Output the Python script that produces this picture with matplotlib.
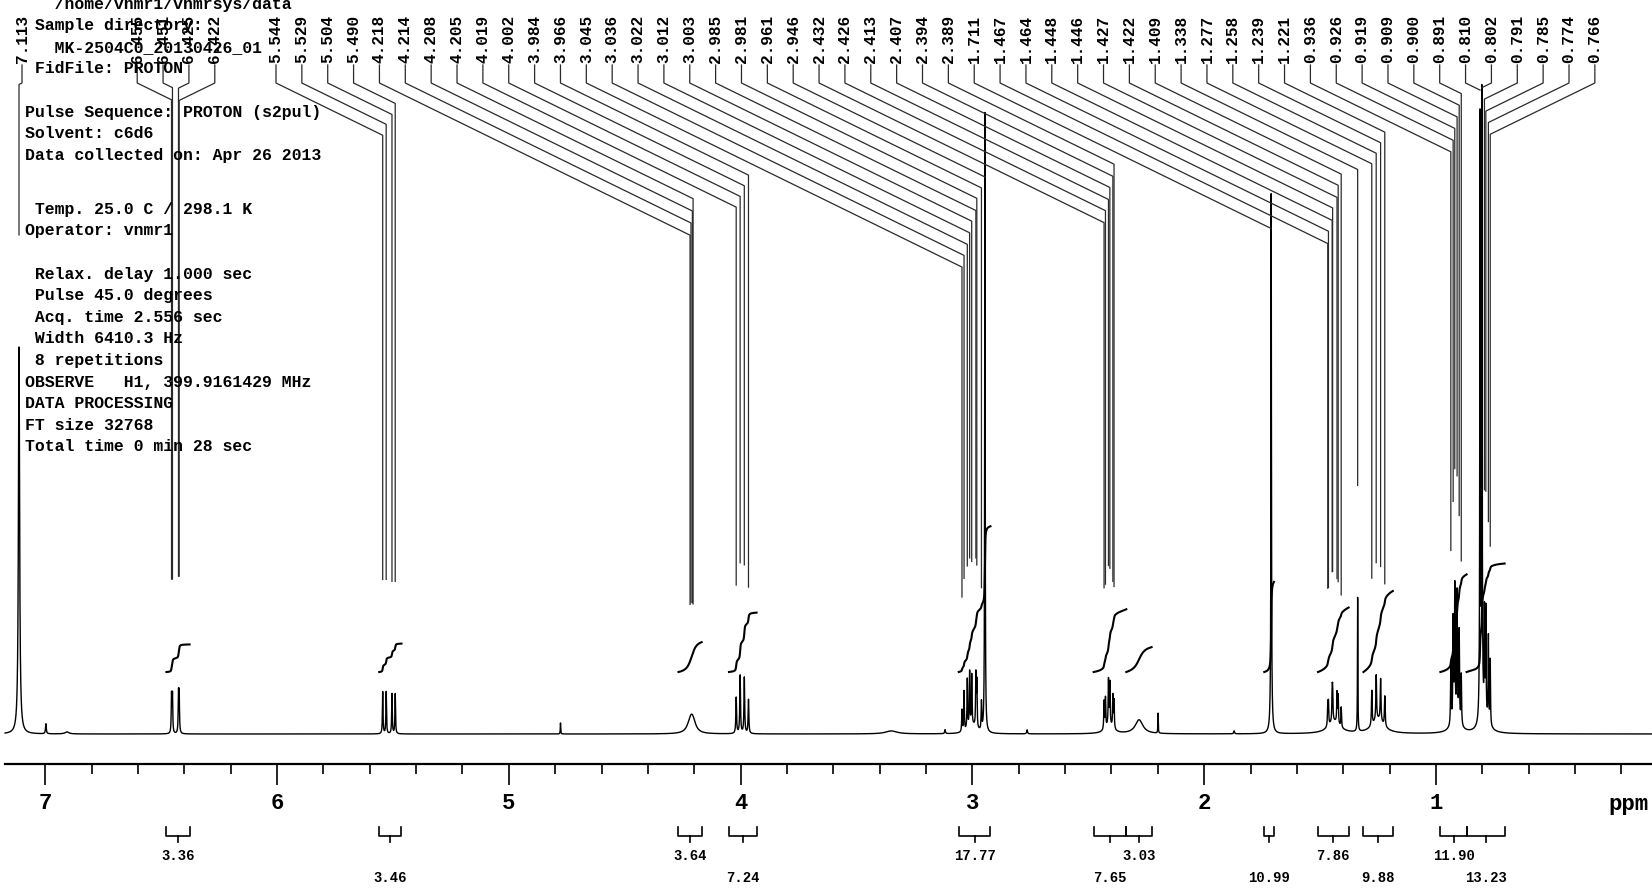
import numpy as np
import matplotlib
matplotlib.use('Agg')
from matplotlib import pyplot as plt
from matplotlib.ticker import MultipleLocator, FormatStrFormatter

# labelled lines: printed shift, height above baseline, half width (ppm)
shifts = ['7.113',
          '6.455', '6.451', '6.425', '6.422',
          '5.544', '5.529', '5.504', '5.490',
          '4.218', '4.214', '4.208', '4.205',
          '4.019', '4.002', '3.984', '3.966',
          '3.045', '3.036', '3.022', '3.012', '3.003', '2.985', '2.981', '2.961', '2.946',
          '2.432', '2.426', '2.413', '2.407', '2.394', '2.389',
          '1.711',
          '1.467', '1.464', '1.448', '1.446', '1.427', '1.422', '1.409',
          '1.338',
          '1.277', '1.258', '1.239', '1.221',
          '0.936', '0.926', '0.919', '0.909', '0.900', '0.891',
          '0.810', '0.802', '0.791', '0.785', '0.774', '0.766']
heights = [387,
           38, 38, 38, 38,
           42, 42, 40, 40,
           5.5, 5.5, 5.5, 5.5,
           36, 58, 56, 34,
           22, 40, 50, 55, 50, 52, 45, 28, 620,
           28, 30, 45, 42, 32, 28,
           520,
           22, 22, 28, 28, 30, 28, 20,
           134,
           35, 45, 42, 30,
           60, 100, 130, 125, 90, 50,
           600, 620, 100, 105, 85, 65]
widths = [0.003,
          0.0015, 0.0015, 0.0015, 0.0015,
          0.0015, 0.0015, 0.0015, 0.0015,
          0.015, 0.015, 0.015, 0.015,
          0.0018, 0.0018, 0.0018, 0.0018,
          0.0015, 0.0015, 0.0015, 0.0015, 0.0015, 0.0015, 0.0015, 0.0015, 0.0012,
          0.0015, 0.0015, 0.0015, 0.0015, 0.0015, 0.0015,
          0.0012,
          0.0015, 0.0015, 0.0015, 0.0015, 0.0015, 0.0015, 0.0015,
          0.001,
          0.0018, 0.0018, 0.0018, 0.0018,
          0.0015, 0.0015, 0.0015, 0.0015, 0.0015, 0.0015,
          0.0013, 0.0013, 0.0013, 0.0013, 0.0013, 0.0013]

# unlabelled lines and broad humps
extra_ppm = [6.997, 6.906, 4.777, 3.35, 3.118, 3.00, 2.764, 2.41, 2.281, 2.199, 1.871,
             1.711, 1.44, 1.25, 0.915, 0.79]
extra_height = [10, 2, 11, 3, 4, 8, 4, 8, 14, 20, 3, 20, 12, 14, 15, 15]
extra_hw = [0.002, 0.01, 0.001, 0.03, 0.002, 0.02, 0.002, 0.02, 0.02, 0.001, 0.002,
            0.005, 0.03, 0.03, 0.02, 0.02]

# integral regions
int_hi = [6.477, 5.559, 4.268, 4.050, 3.059, 2.477, 2.336, 1.741, 1.509, 1.313, 0.981, 0.868]
int_lo = [6.377, 5.463, 4.168, 3.931, 2.922, 2.336, 2.227, 1.699, 1.377, 1.186, 0.868, 0.704]
int_val = [3.36, 3.46, 3.64, 7.24, 17.77, 7.65, 3.03, 10.99, 7.86, 9.88, 11.90, 13.23]

params = [('   /home/vnmr1/vnmrsys/data', 0),
          (' Sample directory:', 1),
          ('   MK-2504C0_20130426_01', 2),
          (' FidFile: PROTON', 3),
          ('Pulse Sequence: PROTON (s2pul)', 5),
          ('Solvent: c6d6', 6),
          ('Data collected on: Apr 26 2013', 7),
          (' Temp. 25.0 C / 298.1 K', 9.5),
          ('Operator: vnmr1', 10.5),
          (' Relax. delay 1.000 sec', 12.5),
          (' Pulse 45.0 degrees', 13.5),
          (' Acq. time 2.556 sec', 14.5),
          (' Width 6410.3 Hz', 15.5),
          (' 8 repetitions', 16.5),
          ('OBSERVE   H1, 399.9161429 MHz', 17.5),
          ('DATA PROCESSING', 18.5),
          ('FT size 32768', 19.5),
          ('Total time 0 min 28 sec', 20.5)]

W, H = 1652, 888
BASE = 734            # baseline, pixels from top
PPM_LEFT = 7.195
PX_PER_PPM = 231.8
PPM_RIGHT = PPM_LEFT - W / PX_PER_PPM
GAP = 112
SLOPE = 0.49

plt.rcParams['font.family'] = ['Liberation Mono', 'DejaVu Sans Mono']
plt.rcParams['font.weight'] = 'bold'

fig = plt.figure(figsize=(W / 100, H / 100), dpi=100)
ax = fig.add_axes([0, 0, 1, 1])
ax.set_xlim(PPM_LEFT, PPM_RIGHT)
ax.set_ylim(BASE - H, BASE)


def px2ppm(px):
    return PPM_LEFT - px / PX_PER_PPM


# spectrum
peak_ppm = [float(s) for s in shifts]
grid = np.union1d(np.linspace(PPM_RIGHT, 7.173, 40000), peak_ppm)[::-1]
spec = np.zeros_like(grid)
for p, h, w in zip(peak_ppm + extra_ppm, heights + extra_height, widths + extra_hw):
    spec += h / (1 + ((grid - p) / w) ** 2)
ax.plot(grid, spec, color='k', lw=1.0)

# integrals
for hi, lo, val in zip(int_hi, int_lo, int_val):
    m = (grid <= hi) & (grid >= lo)
    xs, ys = grid[m], spec[m]
    cum = np.concatenate([[0], np.cumsum(0.5 * (ys[1:] + ys[:-1]) * np.abs(np.diff(xs)))])
    ax.plot(xs, 62 + cum / cum[-1] * val * 8.2, color='k', lw=1.5)

# peak labels with leaders
label_px = [22] + [176 + (k - 1.5) * 25.86 for k in range(4)] + [276 + k * 25.86 for k in range(52)]
for s, lpx in zip(shifts, label_px):
    p = float(s)
    lx = px2ppm(lpx)
    ax.text(lx, BASE - 63, s, rotation=90, ha='center', va='bottom', fontsize=11.6)
    knee = (BASE - 83) - SLOPE * abs(lx - p) * PX_PER_PPM
    top = np.interp(p, grid[::-1], spec[::-1]) + GAP
    end = min(top, knee)
    ax.plot([lx, lx, p, p], [BASE - 65, BASE - 83, knee, end], color='#2a2a2a', lw=0.9)

# axis
for side in ['top', 'left', 'right']:
    ax.spines[side].set_visible(False)
ax.spines['bottom'].set_position(('data', BASE - 764))
ax.spines['bottom'].set_bounds(7.173, PPM_RIGHT)
ax.spines['bottom'].set_linewidth(1.6)
ax.yaxis.set_visible(False)
ax.xaxis.set_major_locator(MultipleLocator(1))
ax.xaxis.set_minor_locator(MultipleLocator(0.2))
ax.xaxis.set_major_formatter(FormatStrFormatter('%d'))
ax.tick_params(axis='x', which='major', direction='out', length=15, width=1.2, labelsize=16, pad=6)
ax.tick_params(axis='x', which='minor', direction='out', length=7.5, width=1.2)
ax.text(px2ppm(1628), BASE - 804, 'ppm', ha='center', va='center', fontsize=16)

# integral brackets and values
for i, (hi, lo, val) in enumerate(zip(int_hi, int_lo, int_val)):
    mid = (hi + lo) / 2
    ax.plot([hi, hi, lo, lo], [BASE - 827, BASE - 836, BASE - 836, BASE - 827], color='k', lw=1.2)
    ax.plot([mid, mid], [BASE - 836, BASE - 842], color='k', lw=1.2)
    row_y = 856 if i % 2 == 0 else 878
    ax.text(mid, BASE - row_y, '%.2f' % val, ha='center', va='center', fontsize=10)

# acquisition parameters
for line, row in params:
    fig.text(25 / W, 1 - (4 + row * 21.6) / H, line, ha='left', va='center', fontsize=11.9)

fig.savefig('out.png', dpi=100, facecolor='white')
